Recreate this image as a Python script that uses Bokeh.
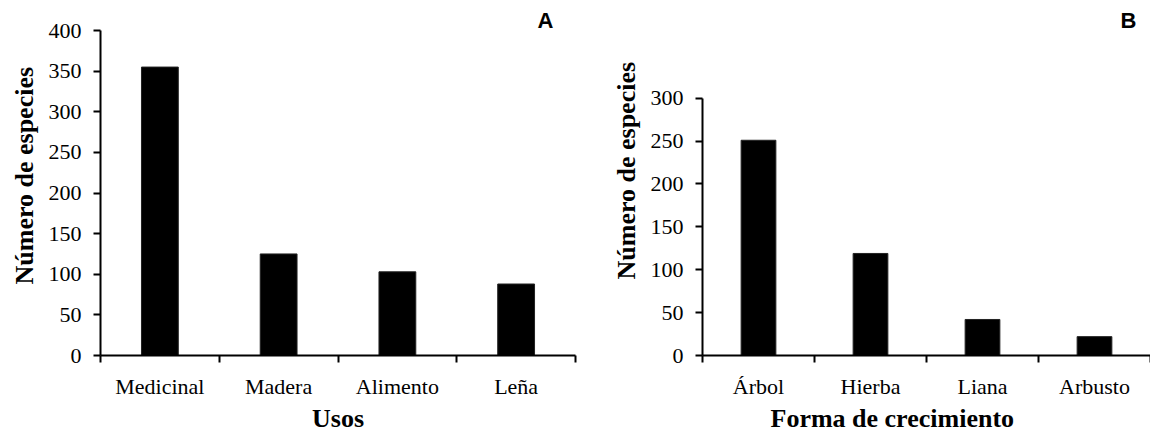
from bokeh.plotting import figure
from bokeh.models import FactorRange, Range1d, LinearAxis, FixedTicker, Title
from bokeh.layouts import row
from bokeh.embed import file_html
from bokeh.resources import INLINE

# ---- data ----
usos = ["Medicinal", "Madera", "Alimento", "Leña"]
usos_especies = [355, 125, 103, 88]
formas = ["Árbol", "Hierba", "Liana", "Arbusto"]
formas_especies = [251, 119, 42, 22]
y_ticks_a = [0, 50, 100, 150, 200, 250, 300, 350, 400]
y_ticks_b = [0, 50, 100, 150, 200, 250, 300]
y_title = "Número de especies"
x_title_a = "Usos"
x_title_b = "Forma de crecimiento"
tag_a = "A"
tag_b = "B"

SERIF = "Liberation Serif"
SANS = "Liberation Sans"
TICK_FS = "22px"
TITLE_FS = "26px"


def make_panel(cats, vals, yticks, y_end, xtitle, tag, width, bl, br,
               ytitle_offset, ytitle_standoff, xtitle_align, xtitle_offset, tag_offset):
    p = figure(x_range=FactorRange(factors=cats),
               y_range=Range1d(yticks[0], y_end),
               width=width, height=432,
               output_backend="svg", toolbar_location=None,
               x_axis_location=None,
               min_border_left=bl, min_border_right=br,
               min_border_top=30, min_border_bottom=76)
    p.outline_line_color = None
    p.grid.grid_line_color = None
    p.background_fill_color = "white"
    p.border_fill_color = "white"

    p.vbar(x=cats, top=vals, width=0.31, fill_color="black",
           line_color="#222222", line_width=1)

    # y axis
    ya = p.yaxis[0]
    ya.ticker = FixedTicker(ticks=yticks, minor_ticks=[])
    ya.bounds = (yticks[0], yticks[-1])
    ya.axis_line_color = "black"
    ya.axis_line_width = 2
    ya.major_tick_line_color = "black"
    ya.major_tick_line_width = 2
    ya.major_tick_out = 7
    ya.major_tick_in = 0
    ya.minor_tick_line_color = None
    ya.major_label_standoff = 12
    ya.major_label_text_font = SERIF
    ya.major_label_text_font_size = TICK_FS
    ya.major_label_text_color = "black"

    # x axis: labels at category centres, tick marks at category boundaries
    n = len(cats)
    centres = [i + 0.5 for i in range(n)]
    bounds = [float(i) for i in range(n + 1)]
    xa = LinearAxis(ticker=FixedTicker(ticks=centres, minor_ticks=bounds),
                    major_label_overrides={c: lab for c, lab in zip(centres, cats)})
    xa.axis_line_color = "black"
    xa.axis_line_width = 2
    xa.major_tick_line_color = None
    xa.major_tick_out = 0
    xa.major_tick_in = 0
    xa.minor_tick_line_color = "black"
    xa.minor_tick_line_width = 2
    xa.minor_tick_out = 7
    xa.minor_tick_in = 0
    xa.major_label_standoff = 11
    xa.major_label_text_font = SERIF
    xa.major_label_text_font_size = TICK_FS
    xa.major_label_text_color = "black"
    p.add_layout(xa, "below")

    p.add_layout(Title(text=y_title, align="left", offset=ytitle_offset,
                       standoff=ytitle_standoff,
                       text_font=SERIF, text_font_style="bold",
                       text_font_size=TITLE_FS, text_color="black"), "left")
    p.add_layout(Title(text=xtitle, align=xtitle_align, offset=xtitle_offset,
                       standoff=0,
                       text_font=SERIF, text_font_style="bold",
                       text_font_size=TITLE_FS, text_color="black"), "below")
    p.add_layout(Title(text=tag, align="right", offset=tag_offset,
                       standoff=-4,
                       text_font=SANS, text_font_style="bold",
                       text_font_size="22px", text_color="black"), "above")
    return p


# frames: common top (30) and bottom (356); panel B's 300 tick sits lower
pa = make_panel(usos, usos_especies, y_ticks_a, 400, x_title_a, tag_a,
                width=590, bl=100, br=15,
                ytitle_offset=71, ytitle_standoff=13,
                xtitle_align="center", xtitle_offset=0, tag_offset=22)
pb = make_panel(formas, formas_especies, y_ticks_b, 379, x_title_b, tag_b,
                width=560, bl=112, br=0,
                ytitle_offset=76, ytitle_standoff=13,
                xtitle_align="left", xtitle_offset=68, tag_offset=14)

layout = row(pa, pb)
open("out.html", "w").write(file_html(layout, INLINE))
